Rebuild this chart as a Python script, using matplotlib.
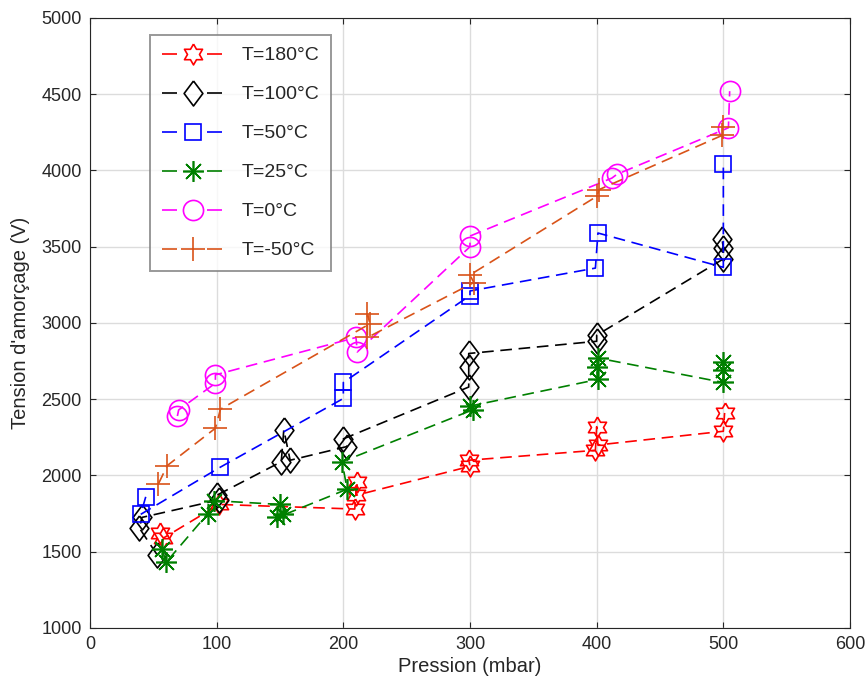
import matplotlib
matplotlib.use("Agg")
import matplotlib.pyplot as plt
from matplotlib.lines import Line2D
import numpy as np

plt.rcParams['font.family'] = ['Liberation Sans', 'DejaVu Sans']

# ---- data (pressure in mbar, voltage in V) ----
labels = ["T=180°C", "T=100°C", "T=50°C", "T=25°C", "T=0°C", "T=-50°C"]

x_180 = [55, 58, 102, 209, 211, 210, 300, 299, 399, 400, 401, 500, 501]
y_180 = [1620, 1590, 1810, 1780, 1960, 1870, 2060, 2100, 2165, 2320, 2200, 2290, 2410]

x_100 = [53, 39, 41, 102, 100, 151, 153, 158, 203, 200, 299, 299, 299, 400, 400, 500, 500, 499]
y_100 = [1480, 1655, 1725, 1840, 1870, 2090, 2300, 2100, 2190, 2240, 2580, 2710, 2800, 2880, 2920, 3420, 3490, 3550]

x_50 = [44, 40, 103, 200, 200, 300, 300, 399, 401, 500, 500]
y_50 = [1860, 1745, 2055, 2505, 2610, 3180, 3210, 3360, 3590, 3365, 4040]

x_25 = [57, 60, 93, 98, 150, 152, 148, 203, 199, 302, 300, 401, 400, 401, 500, 500, 500]
y_25 = [1520, 1430, 1750, 1835, 1810, 1745, 1725, 1910, 2090, 2430, 2455, 2630, 2710, 2770, 2610, 2690, 2745]

x_0 = [69, 70, 99, 99, 210, 211, 300, 300, 412, 416, 504, 505]
y_0 = [2390, 2430, 2605, 2660, 2905, 2810, 3500, 3570, 3950, 3975, 4280, 4520]

x_m50 = [54, 61, 99, 103, 221, 219, 219, 303, 300, 400, 402, 499, 500]
y_m50 = [1945, 2065, 2310, 2435, 2995, 3060, 2905, 3265, 3315, 3830, 3875, 4230, 4285]

x_ticks = [0, 100, 200, 300, 400, 500, 600]
y_ticks = [1000, 1500, 2000, 2500, 3000, 3500, 4000, 4500, 5000]

# ---- styles ----
colors = ["#FF0000", "#000000", "#0000FF", "#008000", "#FF00FF", "#D95319"]
diamond = [(0, 1), (0.75, 0), (0, -1), (-0.75, 0), (0, 1)]
hexagram = []
for k in range(12):
    ang = np.pi / 2 + k * np.pi / 6
    r = 1.0 if k % 2 == 0 else 0.577
    hexagram.append((r * np.cos(ang), r * np.sin(ang)))
hexagram.append(hexagram[0])
markers = [hexagram, diamond, "s", (8, 2, 0), "o", "+"]
msizes = [15, 18, 11, 15, 14.5, 17]
series = [(x_180, y_180), (x_100, y_100), (x_50, y_50), (x_25, y_25), (x_0, y_0), (x_m50, y_m50)]

fig = plt.figure(figsize=(8.67, 6.84), dpi=100)
ax = fig.add_axes([0.1038, 0.0819, 0.8766, 0.8918])

txtc = "#262626"
lw = 1.2
for (xs, ys), c, m, ms in zip(series, colors, markers, msizes):
    ax.plot(xs, ys, linestyle=(0, (7, 4)), color=c, linewidth=lw,
            marker=m, markersize=ms, markerfacecolor="none",
            markeredgecolor=c, markeredgewidth=lw)

ax.set_xlim(0, 600)
ax.set_ylim(1000, 5000)
ax.set_xticks(x_ticks)
ax.set_yticks(y_ticks)
ax.grid(True, color="#DCDCDC", linewidth=1.0)
ax.set_axisbelow(True)
for s in ax.spines.values():
    s.set_color(txtc)
    s.set_linewidth(0.8)
ax.tick_params(direction="in", length=4, colors=txtc, labelsize=13, top=True, right=True,
               labeltop=False, labelright=False, pad=6)
ax.set_xlabel("Pression (mbar)", fontsize=14.5, color=txtc, labelpad=3)
ax.set_ylabel("Tension d'amorçage (V)", fontsize=14.5, color=txtc, labelpad=8)

handles = []
for c, m, ms, lab in zip(colors, markers, msizes, labels):
    handles.append(Line2D([0], [0], color=c, linewidth=lw, linestyle=(0, (9, 18)),
                          marker=m, markersize=ms, markerfacecolor="none",
                          markeredgecolor=c, markeredgewidth=lw, label=lab))
leg = ax.legend(handles=handles, loc="upper left", bbox_to_anchor=(0.079, 0.972),
                borderaxespad=0, fontsize=14, frameon=True, fancybox=False,
                handlelength=3.2, handletextpad=0.9, labelspacing=1.1,
                borderpad=0.6, numpoints=1)
leg.get_frame().set_edgecolor("#7F7F7F")
leg.get_frame().set_linewidth(1.4)
for t in leg.get_texts():
    t.set_color(txtc)

fig.savefig("out.png", dpi=100)
